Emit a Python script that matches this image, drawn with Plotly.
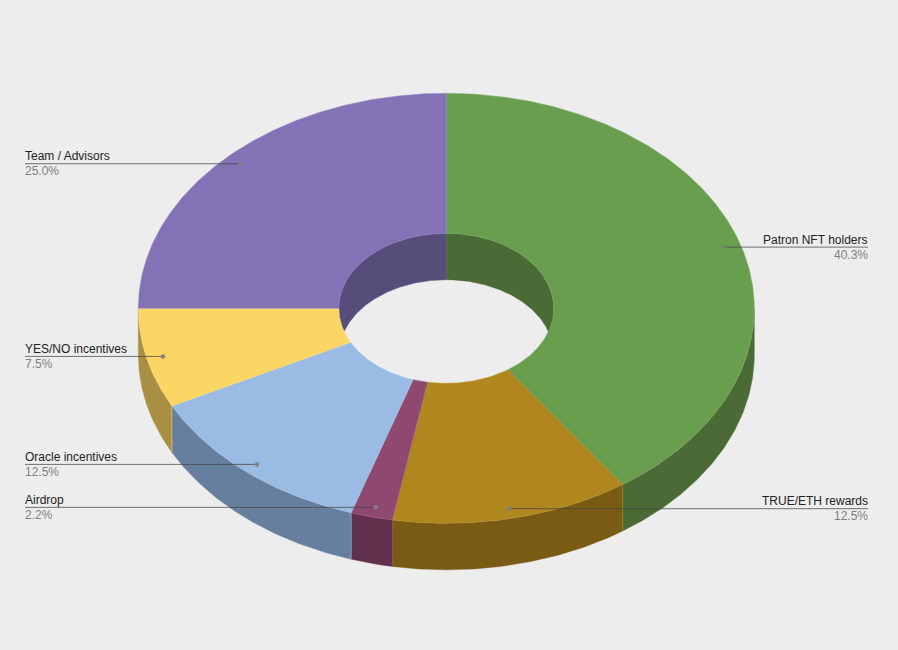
import numpy as np
import plotly.graph_objects as go

categories = ["Patron NFT holders", "TRUE/ETH rewards", "Airdrop", "Oracle incentives", "YES/NO incentives", "Team / Advisors"]
shares = [40.3, 12.5, 2.2, 12.5, 7.5, 25.0]
top_colors = ["#6a9e4f", "#b0861f", "#8f4970", "#9abbe3", "#fbd665", "#8372b6"]
side_colors = ["#4a6b36", "#795b14", "#61304d", "#677f9e", "#a88f44", "#574d7b"]
seam_colors = ["#7fae66", "#c09632", "#a05f82", "#aac6e8", "#fcdc78", "#9083c0"]

BG = "#ededed"
CX, CY, RX, RY, DEPTH = 446.3, 308.3, 308.0, 215.0, 46.5
HOLE = 0.349
LEADER_X, LEADER_Y = 0.946, 0.953
LEFT_X, RIGHT_X = 25, 868

def pt(deg, k=1.0, dz=0.0):
    t = np.radians(deg)
    return CX + RX * k * np.sin(t), CY - RY * k * np.cos(t) + dz

def arc(a, b, k=1.0, dz=0.0):
    n = max(2, int(abs(b - a) * 2) + 2)
    return pt(np.linspace(a, b, n), k, dz)

def poly(fig, xs, ys, fill, line, width=0.6):
    fig.add_trace(go.Scatter(x=list(xs), y=list(ys), mode="lines", fill="toself", fillcolor=fill,
                             line=dict(color=line, width=width), hoverinfo="skip", showlegend=False))

def band(a, b, k):
    x1, y1 = arc(a, b, k)
    x2, y2 = arc(b, a, k, DEPTH)
    return np.r_[x1, x2, x1[0]], np.r_[y1, y2, y1[0]]

edges = np.r_[0, np.cumsum(shares)] / sum(shares) * 360
fig = go.Figure()

# inner wall: back half of the hole
for i in range(len(shares)):
    for lo, hi in ((0, 90), (270, 360)):
        a, b = max(edges[i], lo), min(edges[i + 1], hi)
        if b > a:
            xs, ys = band(a, b, HOLE)
            poly(fig, xs, ys, side_colors[i], side_colors[i], 0.4)

# outer wall: front half of the ring
for i in range(len(shares)):
    a, b = max(edges[i], 90), min(edges[i + 1], 270)
    if b > a:
        xs, ys = band(a, b, 1.0)
        poly(fig, xs, ys, side_colors[i], side_colors[i], 0.4)
        if edges[i] > 90:
            ex, ey = arc(a, a, 1.0)
            fig.add_trace(go.Scatter(x=[ex[0], ex[0]], y=[ey[0], ey[0] + DEPTH], mode="lines",
                                     line=dict(color=seam_colors[i], width=0.5),
                                     hoverinfo="skip", showlegend=False))

# top faces
for i in range(len(shares)):
    x1, y1 = arc(edges[i], edges[i + 1], 1.0)
    x2, y2 = arc(edges[i + 1], edges[i], HOLE)
    poly(fig, np.r_[x1, x2, x1[0]], np.r_[y1, y2, y1[0]], top_colors[i], seam_colors[i], 0.5)

# leaders and labels
annotations = []
for i, (name, share) in enumerate(zip(categories, shares)):
    mid = (edges[i] + edges[i + 1]) / 2
    dx, _ = pt(mid, LEADER_X)
    _, dy = pt(mid, LEADER_Y)
    dy = dy + 0.3
    right = mid < 180
    ax = RIGHT_X if right else LEFT_X
    anchor = "right" if right else "left"
    xshift = 1 if right else -1
    fig.add_trace(go.Scatter(x=[ax, dx], y=[dy, dy], mode="lines", line=dict(color="rgba(70,70,70,0.75)", width=1),
                             hoverinfo="skip", showlegend=False))
    fig.add_trace(go.Scatter(x=[dx], y=[dy], mode="markers", marker=dict(color="#808080", size=4.5),
                             hoverinfo="skip", showlegend=False))
    annotations.append(dict(x=ax, y=dy, xref="x", yref="y", text=name, showarrow=False, xanchor=anchor,
                            yanchor="bottom", align=anchor, xshift=xshift, yshift=-0.5, borderpad=0,
                            font=dict(family="Liberation Sans, Arial", size=12, color="#222222")))
    annotations.append(dict(x=ax, y=dy, xref="x", yref="y", text=f"{share:.1f}%", showarrow=False, xanchor=anchor,
                            yanchor="top", align=anchor, xshift=xshift, yshift=0.5, borderpad=0,
                            font=dict(family="Liberation Sans, Arial", size=12, color="#7f7f7f")))

fig.update_layout(width=898, height=650, margin=dict(l=0, r=0, t=0, b=0), paper_bgcolor=BG, plot_bgcolor=BG,
                  showlegend=False, annotations=annotations,
                  xaxis=dict(range=[0, 898], visible=False, fixedrange=True),
                  yaxis=dict(range=[650, 0], visible=False, fixedrange=True))
fig.write_html("out.html", config={"displayModeBar": False},
               post_script="document.body.style.margin='0';document.body.style.overflow='hidden';")
